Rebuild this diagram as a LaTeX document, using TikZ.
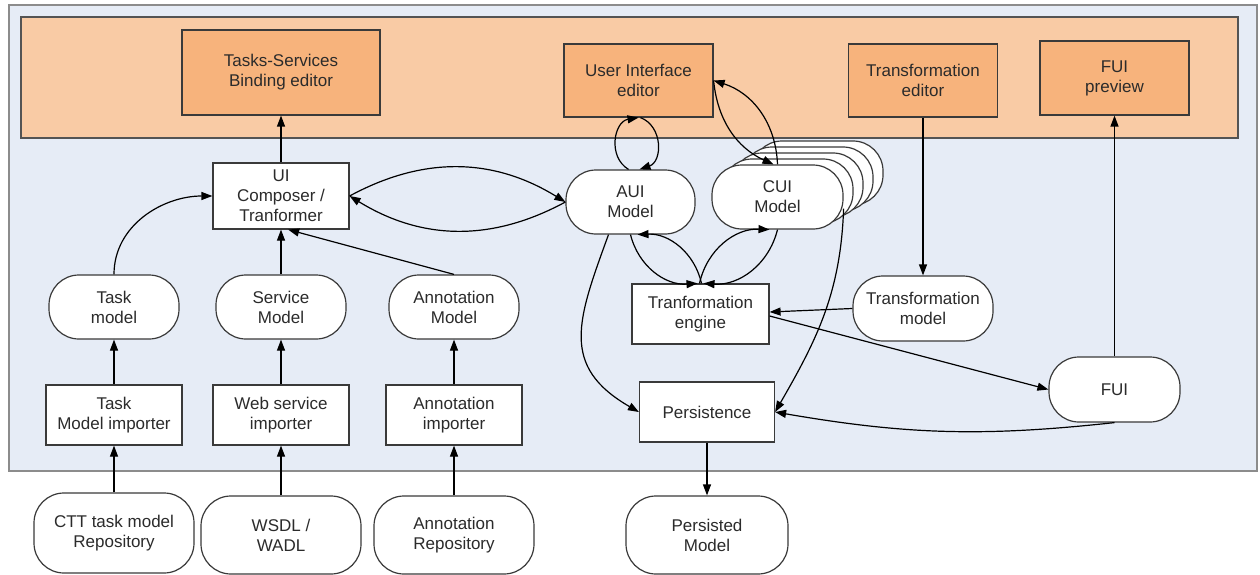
\documentclass[tikz,border=0pt]{standalone}
\usepackage{fontspec}
\setmainfont{Liberation Sans}
\usetikzlibrary{arrows.meta,positioning}
\definecolor{FrameBlue}{HTML}{E6ECF6}
\definecolor{FrameRule}{HTML}{8C8C8C}
\definecolor{BandOrange}{HTML}{F9CBA5}
\definecolor{EditorOrange}{HTML}{F7B37C}
\definecolor{LineDark}{HTML}{3A3A3A}
\definecolor{TextDark}{HTML}{2B2B2B}

\begin{document}
\begin{tikzpicture}[
    x=1pt,y=1pt,
    >={Triangle[length=11pt,width=8pt]},
    font=\fontsize{17}{20}\selectfont,
    base/.style={draw=LineDark,line width=1.2pt,align=center,text=TextDark,inner sep=2pt},
    editor/.style={base,fill=EditorOrange,minimum width=149,minimum height=73},
    proc/.style={base,fill=white,minimum width=136,minimum height=60},
    model/.style={base,fill=white,rounded corners=30pt,minimum width=130,minimum height=64},
    repo/.style={base,fill=white,rounded corners=30pt,minimum width=160,minimum height=78},
    link/.style={->,draw=black,line width=1.2pt}
  ]
    \useasboundingbox (0,0) rectangle (1260,-575);
    % frames
    \draw[draw=FrameRule,line width=2pt,fill=FrameBlue] (9,-5) rectangle (1257,-471);
    \draw[draw=FrameRule!60!black,line width=1.2pt,fill=BandOrange] (21,-17) rectangle (1238,-138);

    % editors
    \node[editor,minimum width=198,minimum height=85] (tsbed) at (281,-72.5) {Tasks-Services\\Binding editor};
    \node[editor] (uied) at (638.5,-80.5) {User Interface\\editor};
    \node[editor] (tred) at (923,-80.5) {Transformation\\editor};
    \node[editor,minimum height=74] (fuipv) at (1114.5,-78) {FUI\\preview};

    % import chain
    \node[proc,minimum height=66] (uic) at (281,-196) {UI\\Composer /\\Tranformer};
    \node[model] (taskm) at (114,-307) {Task\\model};
    \node[model] (servm) at (281,-307) {Service\\Model};
    \node[model] (annm) at (454,-307) {Annotation\\Model};
    \node[proc] (taski) at (114,-415) {Task\\Model importer};
    \node[proc] (webi) at (281,-415) {Web service\\importer};
    \node[proc] (anni) at (454,-415) {Annotation\\importer};
    \node[repo,minimum height=80] (cttr) at (114,-533) {CTT task model\\Repository};
    \node[repo] (wsdl) at (281,-535) {WSDL /\\WADL};
    \node[repo] (annr) at (454,-535) {Annotation\\Repository};

    % models and engine
    \node[proc,minimum width=135] (pers) at (707,-412) {Persistence};
    \node[repo,minimum width=162] (persm) at (707,-535) {Persisted\\Model};
    \node[proc,minimum width=137] (treng) at (700.5,-314) {Tranformation\\engine};
    \node[model,minimum width=129] (auim) at (630.5,-202) {AUI\\Model};
    \foreach \k in {4,3,2,1}
      \node[model,minimum width=131] (cuis\k) at ({777.5+10*\k},{-197+6*\k}) {};
    \node[model,minimum width=131] (cuim) at (777.5,-197) {CUI\\Model};
    \node[model,minimum width=140,minimum height=65] (trm) at (923,-308.5) {Transformation\\model};
    \node[model,minimum width=131,minimum height=65] (fui) at (1114.5,-389.5) {FUI};

    % links
    \draw[link] (uic) -- (tsbed);
    \draw[link] (taskm.north) to[out=90,in=180] (uic.west);
    \draw[link] (servm) -- (uic);
    \draw[link] (annm.north) -- (uic.-78);
    \draw[link] (taski) -- (taskm);
    \draw[link] (webi) -- (servm);
    \draw[link] (anni) -- (annm);
    \draw[link] (cttr) -- (taski);
    \draw[link] (wsdl) -- (webi);
    \draw[link] (annr) -- (anni);
    \draw[link] (uic.east) to[bend left=30] (auim.west);
    \draw[link] (auim.west) to[bend left=30] (uic.east);
    \draw[link] ([xshift=-2pt]auim.north) to[bend left=70,looseness=1.2] (uied.south);
    \draw[link] ([xshift=2pt]uied.south) to[bend left=70,looseness=1.2] ([xshift=9pt]auim.north);
    \draw[link] (uied.east) to[bend right=30] ([xshift=-4pt]cuim.north);
    \draw[link] (cuim.north) to[bend right=35] (uied.east);
    \draw[link] (auim.south) to[bend right=40] ([xshift=-3pt]treng.north);
    \draw[link] ([xshift=1pt]treng.north) to[bend right=40] ([xshift=7pt]auim.south);
    \draw[link] (cuim.south) to[bend left=40] ([xshift=3pt]treng.north);
    \draw[link] ([xshift=-1pt]treng.north) to[bend left=40] ([xshift=-8pt]cuim.south);
    \draw[link] ([xshift=-22pt]auim.south) to[out=-110,in=150,looseness=1.3] (pers.west);
    \draw[link] (cuim.-10) to[out=-92,in=60] (pers.east);
    \draw[link] (fui.south) to[bend left=8] (pers.east);
    \draw[link] (pers) -- (persm);
    \draw[link] (tred) -- (trm);
    \draw[link] (trm.west) -- ([yshift=2pt]treng.east);
    \draw[link] ([yshift=-2pt]treng.east) -- (fui.west);
    \draw[link] (fui) -- (fuipv);
  \end{tikzpicture}
\end{document}
